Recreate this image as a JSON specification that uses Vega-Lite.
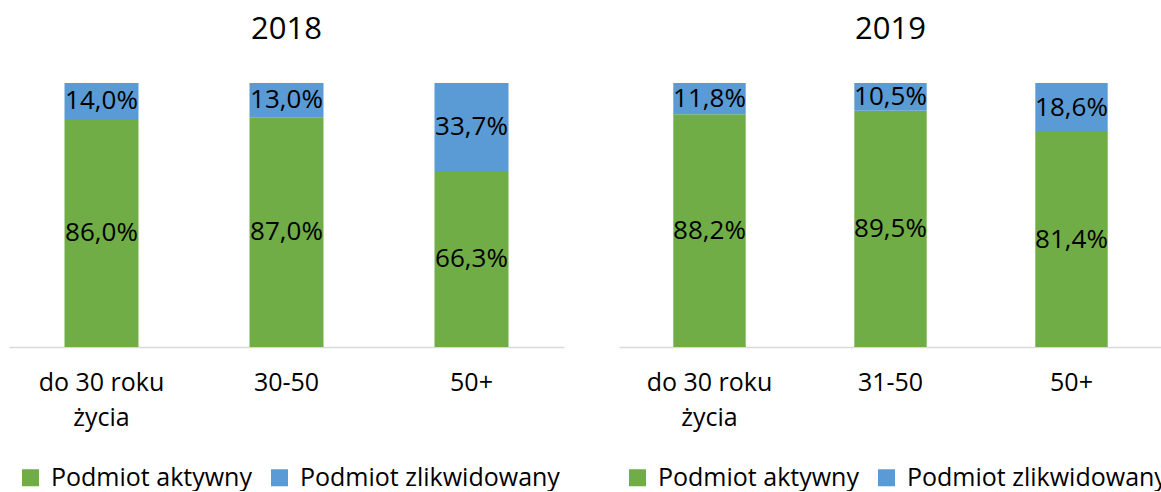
{
  "$schema": "https://vega.github.io/schema/vega-lite/v6.json",
  "background": "white",
  "padding": {"left": 9, "top": 14, "right": 0, "bottom": 0},
  "config": {
    "locale": {"number": {"decimal": ",", "thousands": " ", "grouping": [3], "currency": ["", " zł"]}},
    "view": {"stroke": null},
    "font": "Open Sans",
    "concat": {"spacing": 55}
  },
  "data": {"values": [
    {"year": 2018, "group": "do 30 roku życia", "status": "Podmiot aktywny", "value": 0.86},
    {"year": 2018, "group": "do 30 roku życia", "status": "Podmiot zlikwidowany", "value": 0.14},
    {"year": 2018, "group": "30-50", "status": "Podmiot aktywny", "value": 0.87},
    {"year": 2018, "group": "30-50", "status": "Podmiot zlikwidowany", "value": 0.13},
    {"year": 2018, "group": "50+", "status": "Podmiot aktywny", "value": 0.663},
    {"year": 2018, "group": "50+", "status": "Podmiot zlikwidowany", "value": 0.337},
    {"year": 2019, "group": "do 30 roku życia", "status": "Podmiot aktywny", "value": 0.882},
    {"year": 2019, "group": "do 30 roku życia", "status": "Podmiot zlikwidowany", "value": 0.118},
    {"year": 2019, "group": "31-50", "status": "Podmiot aktywny", "value": 0.895},
    {"year": 2019, "group": "31-50", "status": "Podmiot zlikwidowany", "value": 0.105},
    {"year": 2019, "group": "50+", "status": "Podmiot aktywny", "value": 0.814},
    {"year": 2019, "group": "50+", "status": "Podmiot zlikwidowany", "value": 0.186}
  ]},
  "resolve": {"scale": {"color": "independent"}, "legend": {"color": "independent"}},
  "hconcat": [
    {
      "width": 555, "height": 264,
      "title": {"text": "2018", "fontSize": 31, "fontWeight": "normal", "color": "#000000", "baseline": "alphabetic", "offset": 13},
      "transform": [
        {"filter": "datum.year == 2018"},
        {"stack": "value", "groupby": ["group"], "sort": [{"field": "status", "order": "ascending"}], "as": ["v0", "v1"]},
        {"calculate": "(datum.v0 + datum.v1) / 2", "as": "mid"}
      ],
      "encoding": {
        "x": {"field": "group", "type": "nominal", "sort": null, "title": null,
          "scale": {"paddingInner": 0.6, "paddingOuter": 0.3},
          "axis": {"labelAngle": 0, "ticks": false, "domainColor": "#D9D9D9", "domainWidth": 1.5, "labelFontSize": 25, "labelColor": "#000000", "labelPadding": 23, "labelLineHeight": 35,
            "labelExpr": "datum.label == 'do 30 roku życia' ? ['do 30 roku', 'życia'] : datum.label"}}
      },
      "layer": [
        {"mark": {"type": "bar"},
          "encoding": {
            "y": {"field": "v1", "type": "quantitative", "scale": {"domain": [0, 1]}, "axis": null},
            "y2": {"field": "v0"},
            "color": {"field": "status", "type": "nominal",
              "scale": {"domain": ["Podmiot aktywny", "Podmiot zlikwidowany"], "range": ["#70AD47", "#5B9BD5"]},
              "legend": {"orient": "none", "legendX": 9, "legendY": 382, "direction": "horizontal", "title": null, "symbolType": "square", "symbolSize": 289, "symbolStrokeWidth": 0, "symbolOpacity": 1, "labelFontSize": 25, "labelColor": "#000000", "labelOffset": 8, "columnPadding": 15, "labelLimit": 400}}
          }},
        {"mark": {"type": "text", "fontSize": 26, "color": "#000000", "baseline": "middle"},
          "encoding": {
            "y": {"field": "mid", "type": "quantitative", "scale": {"domain": [0, 1]}},
            "text": {"field": "value", "type": "quantitative", "format": ".1%"}
          }}
      ]
    },
    {
      "width": 543, "height": 264,
      "title": {"text": "2019", "fontSize": 31, "fontWeight": "normal", "color": "#000000", "baseline": "alphabetic", "offset": 13},
      "transform": [
        {"filter": "datum.year == 2019"},
        {"stack": "value", "groupby": ["group"], "sort": [{"field": "status", "order": "ascending"}], "as": ["v0", "v1"]},
        {"calculate": "(datum.v0 + datum.v1) / 2", "as": "mid"}
      ],
      "encoding": {
        "x": {"field": "group", "type": "nominal", "sort": null, "title": null,
          "scale": {"paddingInner": 0.6, "paddingOuter": 0.3},
          "axis": {"labelAngle": 0, "ticks": false, "domainColor": "#D9D9D9", "domainWidth": 1.5, "labelFontSize": 25, "labelColor": "#000000", "labelPadding": 23, "labelLineHeight": 35,
            "labelExpr": "datum.label == 'do 30 roku życia' ? ['do 30 roku', 'życia'] : datum.label"}}
      },
      "layer": [
        {"mark": {"type": "bar"},
          "encoding": {
            "y": {"field": "v1", "type": "quantitative", "scale": {"domain": [0, 1]}, "axis": null},
            "y2": {"field": "v0"},
            "color": {"field": "status", "type": "nominal",
              "scale": {"domain": ["Podmiot aktywny", "Podmiot zlikwidowany"], "range": ["#70AD47", "#5B9BD5"]},
              "legend": {"orient": "none", "legendX": 6, "legendY": 382, "direction": "horizontal", "title": null, "symbolType": "square", "symbolSize": 289, "symbolStrokeWidth": 0, "symbolOpacity": 1, "labelFontSize": 25, "labelColor": "#000000", "labelOffset": 8, "columnPadding": 15, "labelLimit": 400}}
          }},
        {"mark": {"type": "text", "fontSize": 26, "color": "#000000", "baseline": "middle"},
          "encoding": {
            "y": {"field": "mid", "type": "quantitative", "scale": {"domain": [0, 1]}},
            "text": {"field": "value", "type": "quantitative", "format": ".1%"}
          }}
      ]
    }
  ]
}
